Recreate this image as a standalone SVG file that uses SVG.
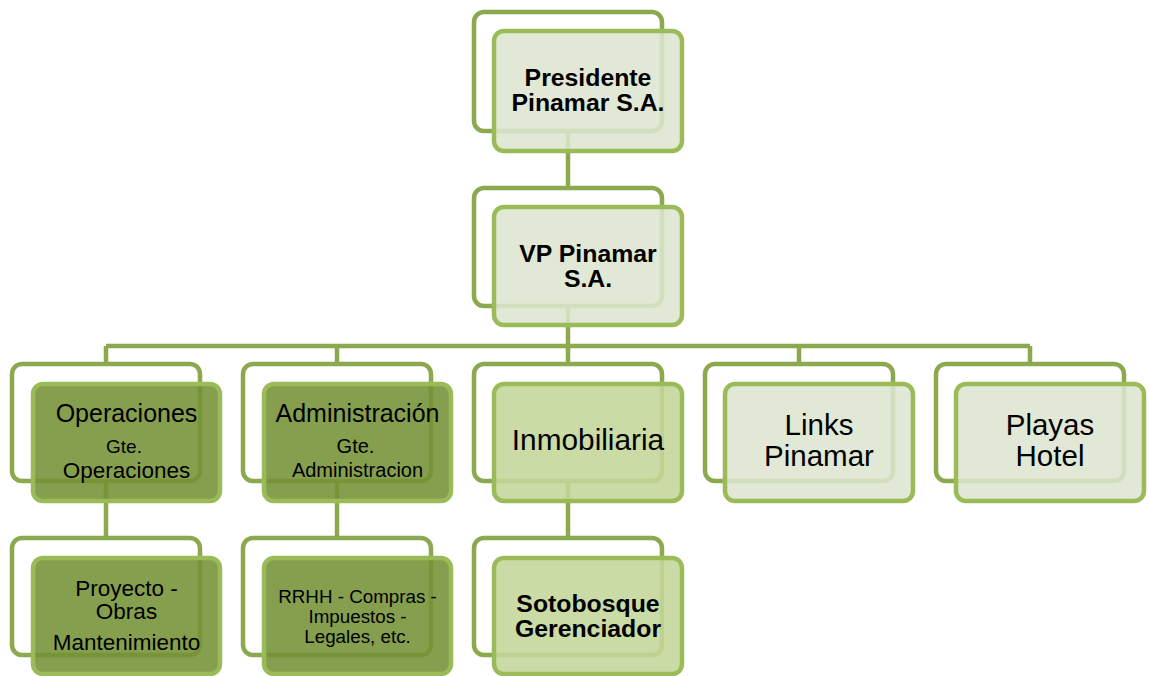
<svg xmlns="http://www.w3.org/2000/svg" width="1149" height="676" viewBox="0 0 1149 676">
<style>
.back{fill:none;stroke:#8CA94F;stroke-width:4.5}
.front{stroke:#9BBB59;stroke-width:4.5;fill-opacity:0.88}
.light{fill:#DDE5CF}
.mid{fill:#C4D69A}
.dark{fill:#749235}
.conn{fill:none;stroke:#8CA94F;stroke-width:4.5}
text{font-family:"Liberation Sans",Arial,sans-serif;fill:#000;text-anchor:middle}
.b{font-weight:bold;font-size:24.8px}
</style>
<rect width="1149" height="676" fill="#fff"/>
<g id="backs">
<rect class="back" x="474" y="12" width="188" height="119" rx="10"/>
<rect class="back" x="474" y="188" width="188" height="118" rx="10"/>
<rect class="back" x="12" y="364" width="188" height="117" rx="10"/>
<rect class="back" x="243" y="364" width="188" height="117" rx="10"/>
<rect class="back" x="474" y="364" width="188" height="117" rx="10"/>
<rect class="back" x="705" y="364" width="188" height="117" rx="10"/>
<rect class="back" x="936" y="364" width="188" height="117" rx="10"/>
<rect class="back" x="12" y="538" width="188" height="117" rx="10"/>
<rect class="back" x="243" y="538" width="188" height="117" rx="10"/>
<rect class="back" x="474" y="538" width="188" height="117" rx="10"/>
</g>
<g id="connectors">
<path class="conn" d="M568 131V188M568 306V346M106 346H1030M106 346V364M337 346V364M568 346V364M799 346V364M1030 346V364M106 481V538M337 481V538M568 481V538"/>
</g>
<g id="presidente">
<rect class="front light" x="494" y="31" width="188" height="120" rx="10"/>
<text class="b" x="588" y="86">Presidente</text>
<text class="b" x="588" y="111">Pinamar S.A.</text>
</g>
<g id="vp">
<rect class="front light" x="494" y="207" width="188" height="118" rx="10"/>
<text class="b" x="588" y="262">VP Pinamar</text>
<text class="b" x="588" y="287">S.A.</text>
</g>
<g id="operaciones">
<rect class="front dark" x="33" y="384" width="187" height="117" rx="10"/>
<text x="126.5" y="422" font-size="25">Operaciones</text>
<text x="124" y="453" font-size="19">Gte.</text>
<text x="126.5" y="478" font-size="22.5">Operaciones</text>
</g>
<g id="administracion">
<rect class="front dark" x="264" y="384" width="187" height="117" rx="10"/>
<text x="357.5" y="422" font-size="25">Administración</text>
<text x="355.5" y="453" font-size="20">Gte.</text>
<text x="357.5" y="477" font-size="20">Administracion</text>
</g>
<g id="inmobiliaria">
<rect class="front mid" x="494" y="384" width="188" height="117" rx="10"/>
<text x="588" y="450" font-size="29.8">Inmobiliaria</text>
</g>
<g id="links">
<rect class="front light" x="725" y="384" width="188" height="117" rx="10"/>
<text x="819" y="435" font-size="29.5">Links</text>
<text x="819" y="466" font-size="29.5">Pinamar</text>
</g>
<g id="playas">
<rect class="front light" x="956" y="384" width="188" height="117" rx="10"/>
<text x="1050" y="435" font-size="29.5">Playas</text>
<text x="1050" y="466" font-size="29.5">Hotel</text>
</g>
<g id="proyecto">
<rect class="front dark" x="33" y="558" width="187" height="116" rx="10"/>
<text x="126.5" y="596" font-size="22.5">Proyecto -</text>
<text x="126.5" y="619" font-size="22.5">Obras</text>
<text x="126.5" y="650" font-size="22.5">Mantenimiento</text>
</g>
<g id="rrhh">
<rect class="front dark" x="264" y="558" width="187" height="116" rx="10"/>
<text x="357.5" y="603" font-size="18.8">RRHH - Compras -</text>
<text x="357.5" y="623" font-size="18.8">Impuestos -</text>
<text x="357.5" y="643" font-size="18.8">Legales, etc.</text>
</g>
<g id="sotobosque">
<rect class="front mid" x="494" y="558" width="188" height="116" rx="10"/>
<text class="b" x="588" y="612">Sotobosque</text>
<text class="b" x="588" y="637">Gerenciador</text>
</g>
</svg>
